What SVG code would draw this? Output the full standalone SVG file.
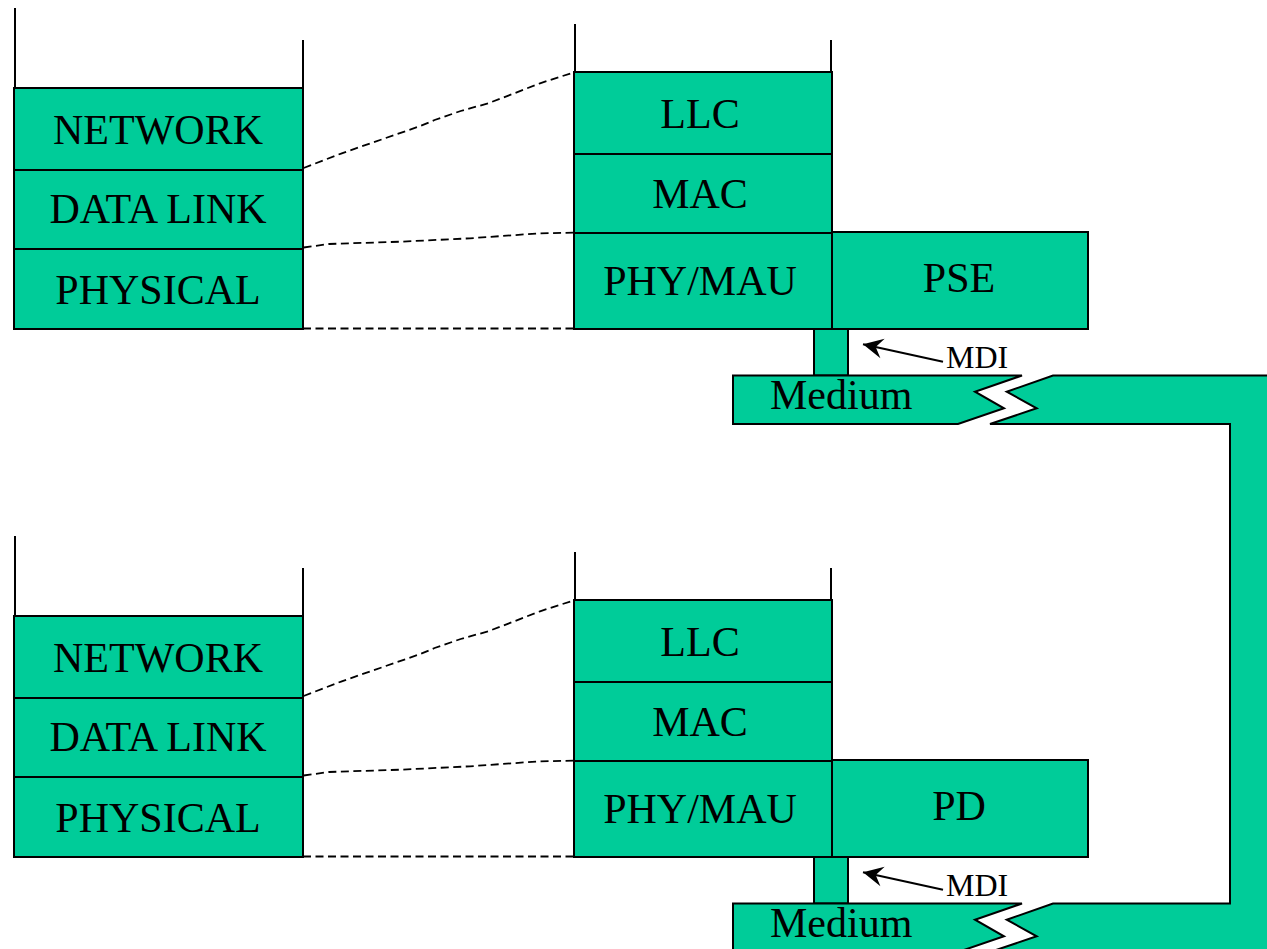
<svg xmlns="http://www.w3.org/2000/svg" width="1267" height="949" viewBox="0 0 1267 949">
  <style>
    .layer { fill: #00CC99; stroke: #000; stroke-width: 2; }
    .edge { fill: none; stroke: #000; stroke-width: 2; }
    .dash { fill: none; stroke: #000; stroke-width: 1.8; stroke-dasharray: 8 4.5; }
    .lbl { font-family: "Liberation Serif", "Times New Roman", serif; font-size: 42px; fill: #000; text-anchor: middle; }
    .med { font-family: "Liberation Serif", "Times New Roman", serif; font-size: 42px; fill: #000; }
    .mdi { font-family: "Liberation Serif", "Times New Roman", serif; font-size: 32px; fill: #000; }
  </style>
  <defs>
    <marker id="head" markerUnits="userSpaceOnUse" markerWidth="28" markerHeight="28" viewBox="-24 -14 28 28" refX="0" refY="0" orient="auto">
      <path d="M0,0 L-20,-10 L-13,0 L-20,10 z" fill="#000"/>
    </marker>
  </defs>
  <rect width="1267" height="949" fill="#fff"/>

  <!-- shared medium: right halves of both cable runs joined by the return band -->
  <g id="medium-link">
    <polygon class="layer" points="1053,375.5 1290,375.5 1290,952 990,952 1036.7,936.3 1006.7,919.7 1053,903.5 1230,903.5 1230,424 990,424 1036.7,408.3 1006.7,391.7"/>
  </g>

  <!-- ===== upper station ===== -->
  <g id="osi-top">
    <line class="edge" x1="15" y1="8" x2="15" y2="88"/>
    <line class="edge" x1="303" y1="40" x2="303" y2="88"/>
    <rect class="layer" x="14" y="88" width="289" height="82"/>
    <rect class="layer" x="14" y="170" width="289" height="79"/>
    <rect class="layer" x="14" y="249" width="289" height="80"/>
    <text class="lbl" x="158" y="144">NETWORK</text>
    <text class="lbl" x="158" y="223">DATA LINK</text>
    <text class="lbl" x="158" y="304">PHYSICAL</text>
  </g>

  <g id="stem-top">
    <rect class="layer" x="814" y="329" width="34" height="46.5"/>
  </g>

  <g id="medium-top">
    <polygon class="layer" points="733,375.5 1022,375.5 975,391.7 1004,408.3 958,424 733,424"/>
    <text class="med" x="770" y="409">Medium</text>
  </g>

  <g id="ieee-top">
    <line class="edge" x1="575" y1="24" x2="575" y2="72"/>
    <line class="edge" x1="831" y1="40" x2="831" y2="72"/>
    <rect class="layer" x="574" y="72" width="258" height="82"/>
    <rect class="layer" x="574" y="154" width="258" height="79"/>
    <rect class="layer" x="574" y="233" width="258" height="96"/>
    <text class="lbl" x="700" y="128">LLC</text>
    <text class="lbl" x="700" y="208">MAC</text>
    <text class="lbl" x="700" y="295">PHY/MAU</text>
  </g>

  <g id="pse">
    <rect class="layer" x="832" y="232" width="256" height="97"/>
    <text class="lbl" x="959" y="292">PSE</text>
  </g>

  <g id="mdi-top">
    <text class="mdi" x="946" y="368">MDI</text>
  </g>

  <!-- ===== lower station ===== -->
  <g id="osi-bottom">
    <line class="edge" x1="15" y1="536" x2="15" y2="616"/>
    <line class="edge" x1="303" y1="568" x2="303" y2="616"/>
    <rect class="layer" x="14" y="616" width="289" height="82"/>
    <rect class="layer" x="14" y="698" width="289" height="79"/>
    <rect class="layer" x="14" y="777" width="289" height="80"/>
    <text class="lbl" x="158" y="672">NETWORK</text>
    <text class="lbl" x="158" y="751">DATA LINK</text>
    <text class="lbl" x="158" y="832">PHYSICAL</text>
  </g>

  <g id="stem-bottom">
    <rect class="layer" x="814" y="857" width="34" height="46.5"/>
  </g>

  <g id="medium-bottom">
    <polygon class="layer" points="733,903.5 1022,903.5 975,919.7 1004,936.3 958,952 733,952"/>
    <text class="med" x="770" y="937">Medium</text>
  </g>

  <g id="ieee-bottom">
    <line class="edge" x1="575" y1="552" x2="575" y2="600"/>
    <line class="edge" x1="831" y1="568" x2="831" y2="600"/>
    <rect class="layer" x="574" y="600" width="258" height="82"/>
    <rect class="layer" x="574" y="682" width="258" height="79"/>
    <rect class="layer" x="574" y="761" width="258" height="96"/>
    <text class="lbl" x="700" y="656">LLC</text>
    <text class="lbl" x="700" y="736">MAC</text>
    <text class="lbl" x="700" y="823">PHY/MAU</text>
  </g>

  <g id="pd">
    <rect class="layer" x="832" y="760" width="256" height="97"/>
    <text class="lbl" x="959" y="820">PD</text>
  </g>

  <g id="mdi-bottom">
    <text class="mdi" x="946" y="896">MDI</text>
  </g>

  <!-- connectors: layer mapping and MDI pointers -->
  <g id="connectors">
    <polyline class="dash" points="303.6,168 341.8,153.3 382.1,139.3 420.4,126 434.6,120 460.7,111 488.2,103.3 514.3,93.3 540,83.3 574,72.3"/>
    <polyline class="dash" points="303.6,247.5 329,244 400.7,241.7 470,238.3 540,233.3 574,232.7"/>
    <line class="dash" x1="303" y1="328.5" x2="574" y2="328.5"/>

    <polyline class="dash" points="303.6,696 341.8,681.3 382.1,667.3 420.4,654 434.6,648 460.7,639 488.2,631.3 514.3,621.3 540,611.3 574,600.3"/>
    <polyline class="dash" points="303.6,775.5 329,772 400.7,769.7 470,766.3 540,761.3 574,760.7"/>
    <line class="dash" x1="303" y1="856.5" x2="574" y2="856.5"/>

    <line class="edge" x1="943" y1="361.7" x2="863" y2="344.3" marker-end="url(#head)"/>
    <line class="edge" x1="943" y1="889.7" x2="863" y2="872.3" marker-end="url(#head)"/>
  </g>
</svg>
